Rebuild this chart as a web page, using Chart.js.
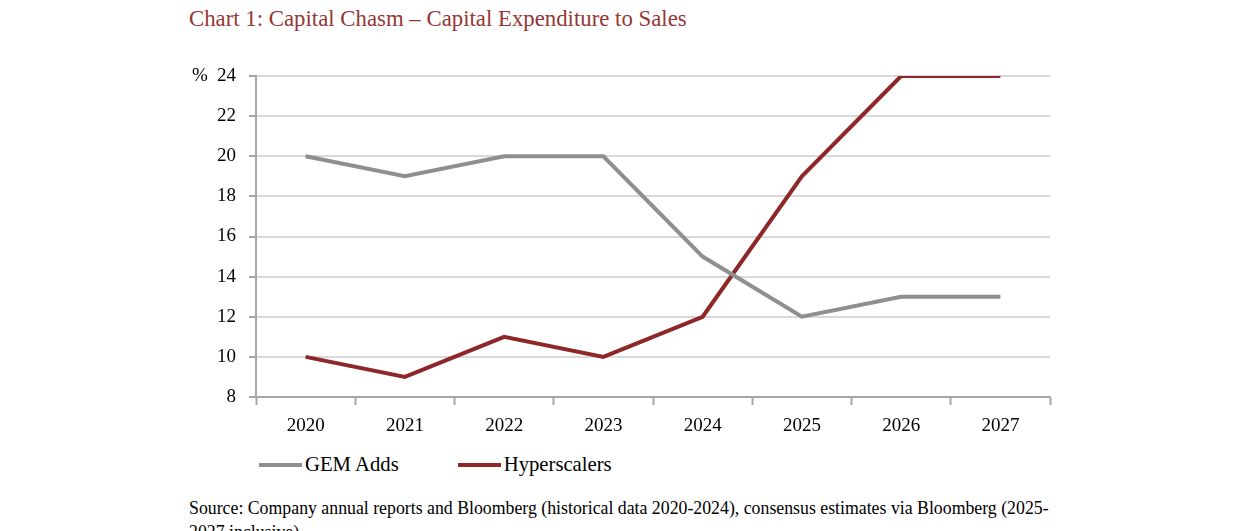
<!DOCTYPE html>
<html>
<head>
<meta charset="utf-8">
<script src="https://cdn.jsdelivr.net/npm/chart.js@4.4.1/dist/chart.umd.min.js"></script>
<style>
  html, body { margin: 0; padding: 0; background: #fff; }
  body { width: 1241px; height: 531px; position: relative; overflow: hidden; font-family: "Liberation Serif", "DejaVu Serif", serif; }
  #title { position: absolute; left: 189px; top: 6px; font-size: 22.8px; color: #953735; white-space: nowrap; }
  #wrap { position: absolute; left: 0; top: 0; width: 1241px; height: 440px; }
  #pct { position: absolute; left: 192px; top: 64px; font-size: 19px; color: #000; }
  #legend { position: absolute; left: 259px; top: 453px; font-size: 20.7px; color: #000; display: flex; }
  .item { display: flex; align-items: center; margin-right: 59px; }
  .swatch { width: 43px; height: 4px; margin-right: 3px; }
  #source { position: absolute; left: 189px; top: 496px; font-size: 17.8px; line-height: 24px; color: #000; white-space: nowrap; }
</style>
</head>
<body>
<div id="title">Chart 1: Capital Chasm – Capital Expenditure to Sales</div>
<div id="wrap"><canvas id="c"></canvas></div>
<div id="pct">%</div>
<div id="legend"></div>
<div id="source">Source: Company annual reports and Bloomberg (historical data 2020-2024), consensus estimates via Bloomberg (2025-<br>2027 inclusive)</div>
<script>
const categories = ["2020", "2021", "2022", "2023", "2024", "2025", "2026", "2027"];
const gemAdds = [20, 19, 20, 20, 15, 12, 13, 13];
const hyperscalers = [10, 9, 11, 10, 12, 19, 24, 24];
const seriesNames = ["GEM Adds", "Hyperscalers"];
const seriesColors = ["#8f8f8f", "#8e2828"];
const yMin = 8, yMax = 24, yStep = 2;

const FONT = "'Liberation Serif', 'DejaVu Serif', serif";

const datasets = [gemAdds, hyperscalers].map((d, i) => ({
  label: seriesNames[i],
  data: d,
  borderColor: seriesColors[i],
  backgroundColor: seriesColors[i],
  borderWidth: 4,
  pointRadius: 0,
  pointHoverRadius: 0,
  tension: 0,
  fill: false
}));

new Chart(document.getElementById('c'), {
  type: 'line',
  data: { labels: categories, datasets },
  options: {
    responsive: true,
    maintainAspectRatio: false,
    animation: false,
    events: [],
    layout: { padding: { left: 150, right: 191, top: 76, bottom: 0 } },
    plugins: { legend: { display: false }, tooltip: { enabled: false }, title: { display: false } },
    scales: {
      x: {
        type: 'category',
        offset: true,
        grid: { display: true, offset: true, drawOnChartArea: false, drawTicks: true, tickLength: 8, tickColor: '#a6a6a6', tickWidth: 2 },
        border: { display: true, color: '#a6a6a6', width: 2 },
        ticks: { color: '#000', font: { family: FONT, size: 19 }, padding: 10, maxRotation: 0 },
        afterFit: s => { s.height = 43; }
      },
      y: {
        min: yMin, max: yMax,
        ticks: { stepSize: yStep, color: '#000', font: { family: FONT, size: 19 }, padding: 13 },
        grid: { color: (ctx) => ctx.tick && ctx.tick.value === yMin ? 'rgba(0,0,0,0)' : '#d9d9d9', lineWidth: 2, tickLength: 7, tickColor: '#a6a6a6', tickWidth: 2 },
        border: { display: true, color: '#a6a6a6', width: 2 },
        afterFit: s => { s.width = 106; }
      }
    }
  }
});

const legend = document.getElementById('legend');
seriesNames.forEach((n, i) => {
  const it = document.createElement('div');
  it.className = 'item';
  const sw = document.createElement('div');
  sw.className = 'swatch';
  sw.style.background = seriesColors[i];
  const tx = document.createElement('span');
  tx.textContent = n;
  it.appendChild(sw); it.appendChild(tx);
  legend.appendChild(it);
});
</script>
</body>
</html>
